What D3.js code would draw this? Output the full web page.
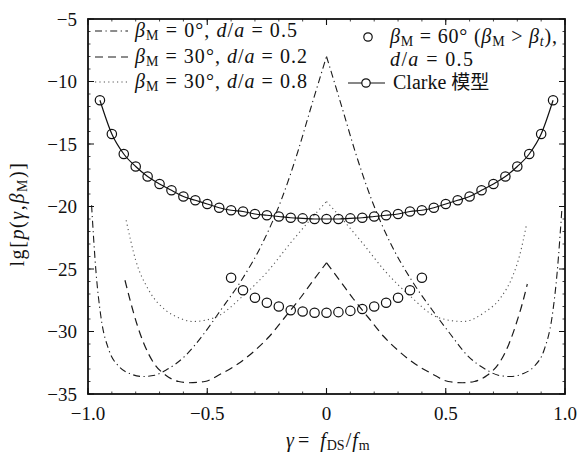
<!DOCTYPE html>
<html lang="zh">
<head>
<meta charset="utf-8">
<title>lg p(gamma, beta_M)</title>
<script src="https://d3js.org/d3.v7.min.js"></script>
<style>
  body { margin: 0; background: #fff; }
  text { font-family: "Liberation Serif", "DejaVu Serif", serif; fill: #111; }
</style>
</head>
<body>
<script>
// axis ticks
var xTicks = [-1.0, -0.5, 0, 0.5, 1.0];
var xTickLabels = ["\u22121.0", "\u22120.5", "0", "0.5", "1.0"];
var yTicks = [-5, -10, -15, -20, -25, -30, -35];

// beta_M = 0 deg, d/a = 0.5  (dash-dot)
var dashDotG = [-0.985, -0.967, -0.946, -0.912, -0.87, -0.82, -0.77, -0.72, -0.674, -0.59, -0.515, -0.444, -0.36, -0.27, -0.19, -0.12, -0.067, 0,
                0.067, 0.12, 0.19, 0.27, 0.36, 0.444, 0.515, 0.59, 0.674, 0.72, 0.77, 0.82, 0.87, 0.912, 0.946, 0.967, 0.987];
var dashDotV = [-19.9, -25.1, -28.8, -31.5, -32.8, -33.4, -33.6, -33.5, -33.1, -31.9, -30.2, -28.3, -26.0, -23.0, -19.5, -15.6, -12.2, -8.0,
                -12.2, -15.6, -19.5, -23.0, -26.0, -28.3, -30.1, -31.9, -33.1, -33.5, -33.6, -33.4, -32.8, -31.5, -28.8, -25.3, -20.2];

// beta_M = 30 deg, d/a = 0.2  (dashed)
var dashedG = [-0.845, -0.822, -0.795, -0.765, -0.725, -0.674, -0.62, -0.577, -0.51, -0.444, -0.372, -0.305, -0.24, -0.176, -0.113, -0.055, 0,
               0.055, 0.113, 0.176, 0.24, 0.305, 0.372, 0.444, 0.51, 0.57, 0.62, 0.674, 0.725, 0.765, 0.795, 0.822, 0.842];
var dashedV = [-25.9, -27.6, -29.4, -31.0, -32.5, -33.5, -34.0, -34.1, -34.0, -33.4, -32.6, -31.6, -30.4, -28.9, -27.4, -25.9, -24.5,
               -25.9, -27.4, -28.9, -30.4, -31.6, -32.6, -33.4, -34.0, -34.1, -34.0, -33.5, -32.5, -31.0, -29.4, -27.7, -26.2];

// beta_M = 30 deg, d/a = 0.8  (dotted)
var dottedG = [-0.84, -0.8, -0.745, -0.674, -0.62, -0.56, -0.47, -0.347, -0.247, -0.15, -0.07, 0,
               0.07, 0.15, 0.247, 0.347, 0.47, 0.573, 0.66, 0.73, 0.78, 0.81, 0.838];
var dottedV = [-21.1, -24.3, -26.7, -28.3, -28.9, -29.2, -28.9, -27.1, -25.2, -22.9, -21.1, -19.6,
               -21.1, -22.9, -25.2, -27.1, -28.9, -29.2, -28.5, -27.3, -25.6, -23.9, -21.5];

// beta_M = 60 deg (beta_M > beta_t), d/a = 0.5  (circles only)
var b60G = [-0.4, -0.35, -0.3, -0.25, -0.2, -0.15, -0.1, -0.05, 0, 0.05, 0.1, 0.15, 0.2, 0.25, 0.3, 0.35, 0.4];
var b60V = [-25.7, -26.7, -27.3, -27.7, -28.0, -28.3, -28.4, -28.5, -28.5, -28.45, -28.35, -28.2, -28.0, -27.7, -27.3, -26.7, -25.7];

// Clarke model (solid line + circles)
var clarkeG = [-0.95, -0.9, -0.85, -0.8, -0.75, -0.7, -0.65, -0.6, -0.55, -0.5, -0.45, -0.4, -0.35, -0.3, -0.25, -0.2, -0.15, -0.1, -0.05, 0,
               0.05, 0.1, 0.15, 0.2, 0.25, 0.3, 0.35, 0.4, 0.45, 0.5, 0.55, 0.6, 0.65, 0.7, 0.75, 0.8, 0.85, 0.9, 0.95];
var clarkeV = [-11.5, -14.2, -15.8, -16.8, -17.6, -18.2, -18.7, -19.2, -19.5, -19.8, -20.1, -20.3, -20.4, -20.6, -20.7, -20.8, -20.9, -20.95, -21.0, -21.0,
               -21.0, -20.95, -20.9, -20.8, -20.7, -20.6, -20.4, -20.3, -20.1, -19.8, -19.5, -19.2, -18.7, -18.2, -17.6, -16.8, -15.8, -14.2, -11.5];

var w = 586, h = 452;
var pLeft = 88, pRight = 565, pTop = 19, pBottom = 394;
var fs = 19, lfs = 20;

var svg = d3.select("body").append("svg").attr("width", w).attr("height", h);

var xScale = d3.scaleLinear().domain([-1, 1]).range([pLeft, pRight]);
var yScale = d3.scaleLinear().domain([-35, -5]).range([pBottom, pTop]);

function zip(g, v) { return g.map(function(d, i) { return {g: d, v: v[i]}; }); }

var line = d3.line()
  .x(function(d) { return xScale(d.g); })
  .y(function(d) { return yScale(d.v); })
  .curve(d3.curveMonotoneX);

// curves with a cusp at gamma = 0: draw each branch on its own
function drawBranches(g, v, dash, color, width) {
  var pts = zip(g, v);
  var branches = [pts.filter(function(d) { return d.g <= 0; }), pts.filter(function(d) { return d.g >= 0; })];
  svg.selectAll(null).data(branches).enter().append("path")
    .attr("d", line)
    .attr("fill", "none")
    .attr("stroke", color)
    .attr("stroke-width", width)
    .attr("stroke-dasharray", dash);
}

drawBranches(dashDotG, dashDotV, "7,3.5,1.2,3.5", "#1a1a1a", 1.1);
drawBranches(dashedG, dashedV, "8,5", "#1a1a1a", 1.2);
drawBranches(dottedG, dottedV, "1.2,3.2", "#555", 1.1);

// Clarke line and markers
svg.append("path")
  .attr("d", line(zip(clarkeG, clarkeV)))
  .attr("fill", "none").attr("stroke", "#111").attr("stroke-width", 1.2);

svg.selectAll(".clarke").data(zip(clarkeG, clarkeV)).enter().append("circle")
  .attr("class", "clarke")
  .attr("cx", function(d) { return xScale(d.g); })
  .attr("cy", function(d) { return yScale(d.v); })
  .attr("r", 4.7)
  .attr("fill", "none").attr("stroke", "#111").attr("stroke-width", 1.2);

svg.selectAll(".b60").data(zip(b60G, b60V)).enter().append("circle")
  .attr("class", "b60")
  .attr("cx", function(d) { return xScale(d.g); })
  .attr("cy", function(d) { return yScale(d.v); })
  .attr("r", 4.7)
  .attr("fill", "none").attr("stroke", "#111").attr("stroke-width", 1.2);

// frame and ticks (inward, all four sides)
var axisG = svg.append("g").attr("stroke", "#111");
var yMinor = d3.range(-35, -4, 1);
var xMinor = d3.range(-10, 11, 1).map(function(d) { return d / 10; });

axisG.selectAll(".ymin").data(yMinor).enter().append("path")
  .attr("d", function(d) { var y = yScale(d); return "M" + pLeft + "," + y + "h2.5M" + pRight + "," + y + "h-2.5"; })
  .attr("stroke-width", 0.8);
axisG.selectAll(".xmin").data(xMinor).enter().append("path")
  .attr("d", function(d) { var x = xScale(d); return "M" + x + "," + pBottom + "v-2.5M" + x + "," + pTop + "v2.5"; })
  .attr("stroke-width", 0.8);
axisG.selectAll(".ymaj").data(yTicks).enter().append("path")
  .attr("d", function(d) { var y = yScale(d); return "M" + pLeft + "," + y + "h6M" + pRight + "," + y + "h-6"; })
  .attr("stroke-width", 1.1);
axisG.selectAll(".xmaj").data(xTicks).enter().append("path")
  .attr("d", function(d) { var x = xScale(d); return "M" + x + "," + pBottom + "v-6M" + x + "," + pTop + "v6"; })
  .attr("stroke-width", 1.1);

svg.append("rect")
  .attr("x", pLeft).attr("y", pTop)
  .attr("width", pRight - pLeft).attr("height", pBottom - pTop)
  .attr("fill", "none").attr("stroke", "#111").attr("stroke-width", 1.8);

// tick labels
svg.selectAll(".ylab").data(yTicks).enter().append("text")
  .attr("x", pLeft - 11).attr("y", function(d) { return yScale(d); })
  .attr("dy", "0.35em")
  .attr("text-anchor", "end")
  .attr("font-size", fs)
  .text(function(d) { return "\u2212" + Math.abs(d); });

svg.selectAll(".xlab").data(xTicks).enter().append("text")
  .attr("x", function(d) { return xScale(d); }).attr("y", 420)
  .attr("text-anchor", "middle")
  .attr("font-size", fs)
  .text(function(d, i) { return xTickLabels[i]; });

// math-ish text helper: parts = [[text, kind, dx]] kind: n normal, i italic, s sub upright, si sub italic
function mathText(sel, parts, size) {
  parts.forEach(function(p) {
    var t = sel.append("tspan").text(p[0]);
    if (p[2]) t.attr("dx", p[2]);
    if (p[1] === "i") t.attr("font-style", "italic");
    if (p[1] === "s" || p[1] === "si") {
      t.attr("font-size", size * 0.7).attr("baseline-shift", "-22%");
      if (p[1] === "si") t.attr("font-style", "italic");
    }
    if (p[1] === "cjk") t.attr("font-family", "'Noto Sans CJK SC', sans-serif").attr("font-size", size * 0.95);
  });
}

// axis titles
var xt = svg.append("text").attr("x", 286).attr("y", 447).attr("font-size", lfs);
mathText(xt, [["\u03b3", "i"], ["=", "n", 4], ["f", "i", 11], ["DS", "s", 1], ["/", "n", 1], ["f", "i", 1], ["m", "s", 1]], lfs);

var yt = svg.append("text").attr("transform", "translate(24,214) rotate(-90)").attr("text-anchor", "middle")
  .attr("font-size", lfs).attr("letter-spacing", 1.6);
mathText(yt, [["lg[", "n"], ["p", "i"], ["(", "n"], ["\u03b3", "i"], [",", "n"], ["\u03b2", "i"], ["M", "s"], [")]", "n"]], lfs);

// left legend
var legendLeft = [
  {dash: "7,3.5,1.2,3.5", color: "#1a1a1a", y: 31, len: 162, parts: [["\u03b2", "i"], ["M", "s"], [" = 0\u00b0, ", "n"], ["d", "i"], ["/", "n"], ["a", "i"], [" = 0.5", "n"]]},
  {dash: "8,5", color: "#1a1a1a", y: 57, len: 172, parts: [["\u03b2", "i"], ["M", "s"], [" = 30\u00b0, ", "n"], ["d", "i"], ["/", "n"], ["a", "i"], [" = 0.2", "n"]]},
  {dash: "1.2,3.2", color: "#555", y: 82, len: 172, parts: [["\u03b2", "i"], ["M", "s"], [" = 30\u00b0, ", "n"], ["d", "i"], ["/", "n"], ["a", "i"], [" = 0.8", "n"]]}
];
legendLeft.forEach(function(d) {
  svg.append("line").attr("x1", 95).attr("x2", 128).attr("y1", d.y).attr("y2", d.y)
    .attr("stroke", d.color).attr("stroke-width", 1.2).attr("stroke-dasharray", d.dash);
  var t = svg.append("text").attr("x", 135).attr("y", d.y + 6).attr("font-size", lfs)
    .attr("textLength", d.len).attr("lengthAdjust", "spacing");
  mathText(t, d.parts, lfs);
});

// right legend
svg.append("circle").attr("cx", 368).attr("cy", 37).attr("r", 4.2)
  .attr("fill", "none").attr("stroke", "#111").attr("stroke-width", 1.2);
var r1 = svg.append("text").attr("x", 390).attr("y", 43).attr("font-size", lfs)
  .attr("textLength", 167).attr("lengthAdjust", "spacing");
mathText(r1, [["\u03b2", "i"], ["M", "s"], [" = 60\u00b0 (", "n"], ["\u03b2", "i"], ["M", "s"], [" > ", "n"], ["\u03b2", "i"], ["t", "si"], ["),", "n"]], lfs);
var r2 = svg.append("text").attr("x", 390).attr("y", 66).attr("font-size", lfs)
  .attr("textLength", 83).attr("lengthAdjust", "spacing");
mathText(r2, [["d", "i"], ["/", "n"], ["a", "i"], [" = 0.5", "n"]], lfs);

svg.append("line").attr("x1", 348).attr("x2", 385).attr("y1", 83).attr("y2", 83)
  .attr("stroke", "#111").attr("stroke-width", 1.2);
svg.append("circle").attr("cx", 366).attr("cy", 83).attr("r", 4.2)
  .attr("fill", "#fff").attr("stroke", "#111").attr("stroke-width", 1.2);
var r3 = svg.append("text").attr("x", 393).attr("y", 89).attr("font-size", lfs);
mathText(r3, [["Clarke ", "n"], ["\u6a21\u578b", "cjk"]], lfs);
</script>
</body>
</html>
